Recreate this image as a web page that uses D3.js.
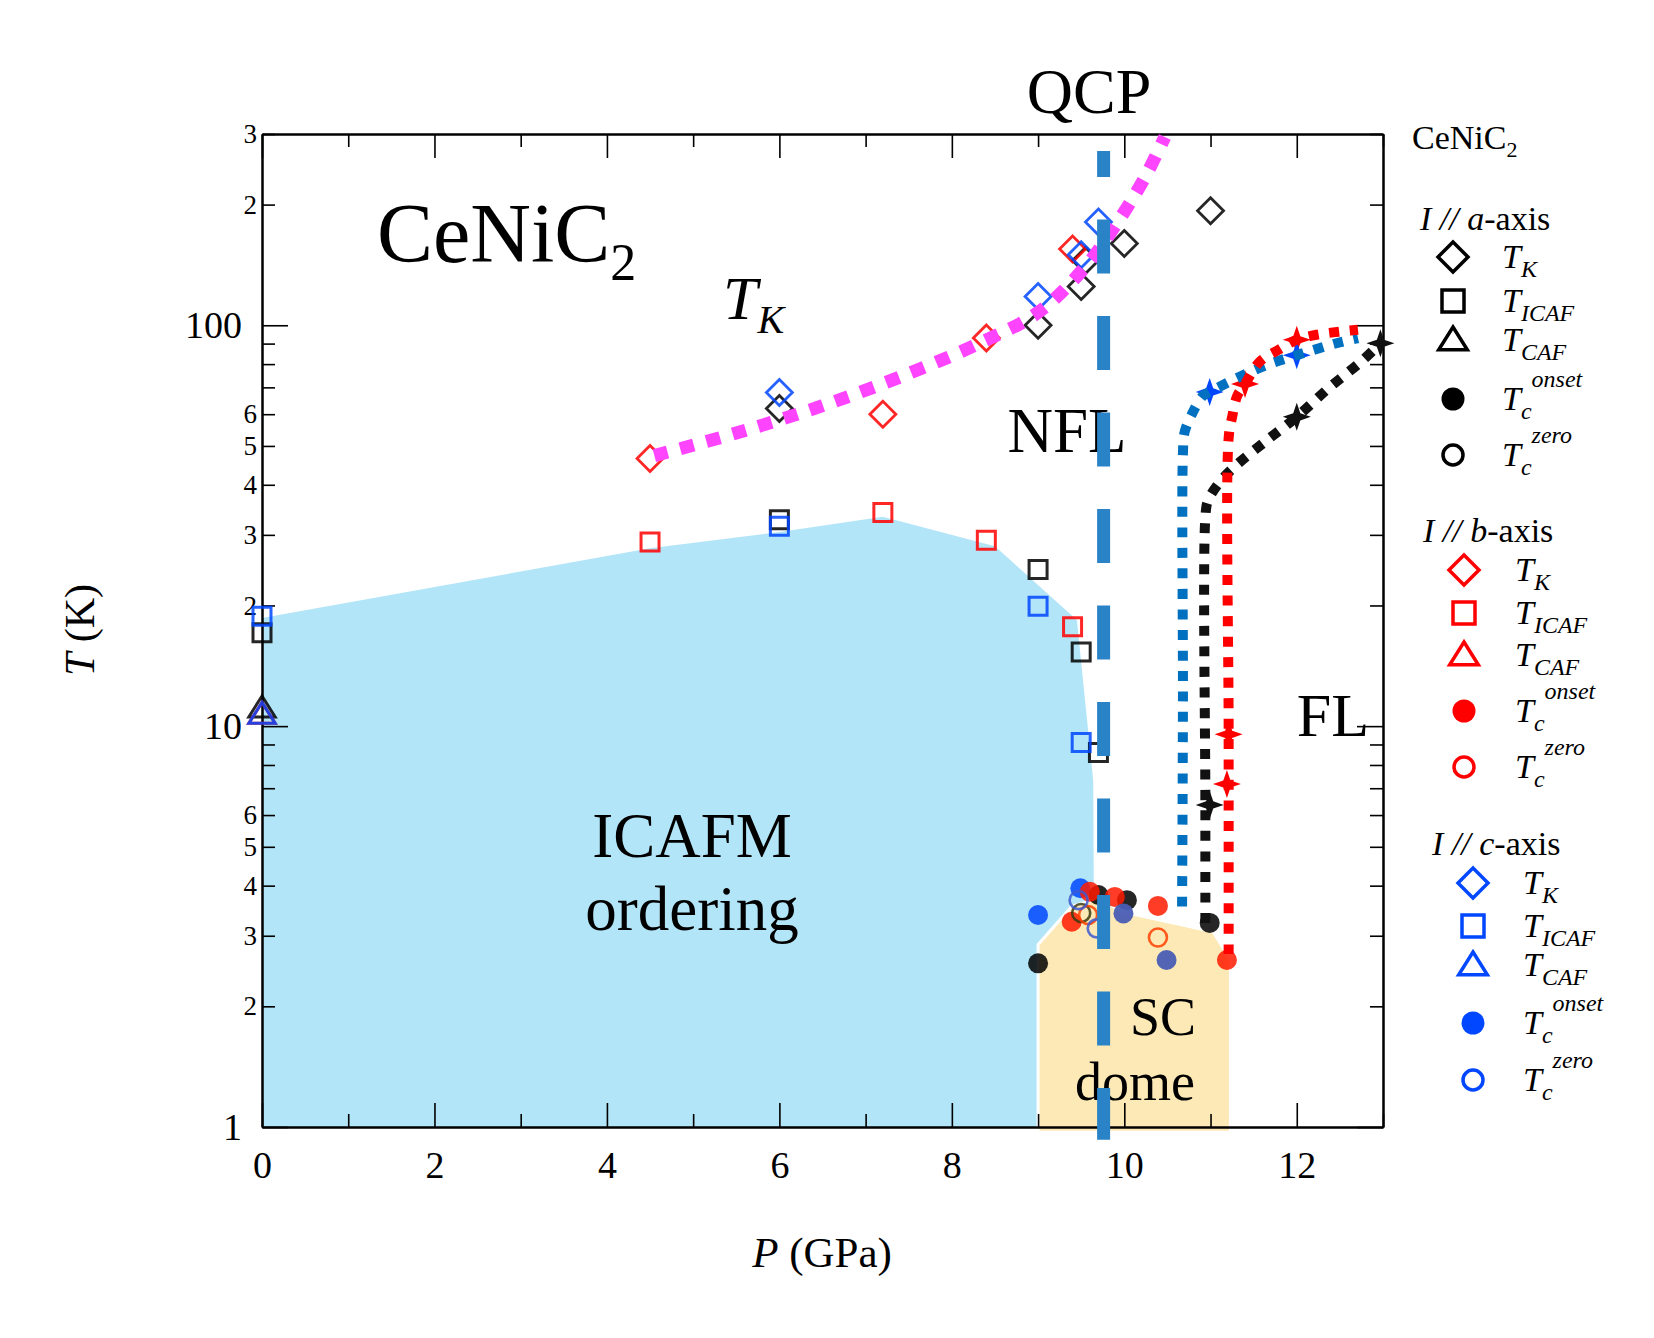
<!DOCTYPE html>
<html><head><meta charset="utf-8">
<script src="https://cdn.jsdelivr.net/npm/d3@7"></script>
<style>
body{margin:0;background:#fff;}
svg{display:block;font-family:"Liberation Serif","Times New Roman",serif;}
</style></head><body>
<svg id="chart" width="1654" height="1338"></svg>
<script>
// ---------- DATA ----------
const xMajorTicks = [0,2,4,6,8,10,12];
const xMinorTicks = [1,3,5,7,9,11,13];
const yMajorTicks = [1,10,100];
const yMinorTicks = [2,3,4,5,6,7,8,9,20,30,40,50,60,70,80,90,200,300];
const yBigLabels = {1:"1",10:"10",100:"100"};
const ySmallLabels = {2:"2",3:"3",4:"4",5:"5",6:"6",20:"2",30:"3",40:"4",50:"5",60:"6",200:"2",300:"3"};

// Regions [P (GPa), T (K)]
const icafmRegion = [[0,1],[0,18.6],[4.5,27.8],[6,30.5],[7.2,33.3],[8.5,28.1],[9.45,18.4],[9.64,7.3],[9.66,1]];
const scDome = [[9.0,0.97],[9.0,2.85],[9.39,3.55],[9.7,3.72],[9.98,3.44],[11.03,3.07],[11.23,2.61],[11.23,0.97]];

// T_K (diamonds)
const tkA = [[6,62],[9,100],[9.55,145],[9.5,125],[10,160],[11,193]];
const tkB = [[4.5,46.5],[7.2,60],[8.4,93],[9.4,155]];
const tkC = [[6,68],[9,118],[9.5,150],[9.7,181]];
// T_ICAF (squares)
const ticafA = [[0,17.1],[6,32.7],[9,24.6],[9.5,15.3],[9.7,8.6]];
const ticafB = [[4.5,28.8],[7.2,34.1],[8.4,29.1],[9.4,17.7]];
const ticafC = [[0,18.8],[6,31.5],[9,19.9],[9.5,9.1]];
// T_CAF (triangles)
const tcafA = [[0,11.1]];
const tcafB = [[0,10.7]];
const tcafC = [[0,10.7]];
// Tc onset (filled circles)
const tcOnA = [[9.0,2.56],[9.7,3.79],[10.03,3.68],[10.99,3.23]];
const tcOnB = [[9.39,3.25],[9.6,3.86],[9.89,3.75],[10.39,3.56],[11.19,2.61]];
const tcOnC = [[9.0,3.38],[9.49,3.94]];
const tcOnC2 = [[9.99,3.41],[10.49,2.61]];
// Tc zero (open circles)
const tcZeA = [[9.5,3.42]];
const tcZeB = [[9.58,3.38],[10.39,2.97]];
const tcZeC = [[9.47,3.68],[9.68,3.13]];

// Kondo temperature guide line
const tkGuide = [[4.55,47.3],[5.52,54],[6.5,63],[7.48,75.5],[8.34,90.6],[9.01,108],[9.56,141],[9.93,182],[10.23,232],[10.47,295]];
// FL boundary guide lines
const flA = [[10.94,3.23],[10.94,6.36],[10.94,33.1],[10.97,36.5],[11.11,40.7],[11.28,44.4],[11.63,51.2],[12.0,59.1],[12.37,69.7],[12.75,81.3],[12.97,90.2]];
const flB = [[11.21,2.7],[11.21,9.54],[11.21,52.4],[11.25,59],[11.31,66.7],[11.4,71.4],[11.57,81.1],[11.79,86.9],[12.0,92],[12.23,94.7],[12.71,97.5]];
const flC = [[10.67,3.55],[10.68,11.6],[10.68,48],[10.7,54.2],[10.78,59.8],[10.91,66.6],[10.99,68.2],[11.34,74.4],[11.65,79.6],[12.0,84.2],[12.46,90.2],[12.71,92.9]];
// stars on FL lines
const starA = [[10.99,6.36],[12.0,59.1],[12.97,90.2]];
const starB = [[11.21,9.54],[11.19,7.17],[11.4,71.4],[12.0,92]];
const starC = [[10.99,68.2],[12.0,84.2]];
// QCP line
const qcpLine = [[9.76,272],[9.76,0.93]];

// Legend
const legendGroups = ["a","b","c"];
const legendRows = ["TK","TICAF","TCAF","TcOnset","TcZero"];

// ---------- SCALES ----------
const svg = d3.select("#chart");
const x = d3.scaleLinear().domain([0,13]).range([262,1383]);
const y = d3.scaleLog().domain([1,300]).range([1127,134]);
const line = d3.line().x(d=>x(d[0])).y(d=>y(d[1]));
const smooth = d3.line().x(d=>x(d[0])).y(d=>y(d[1])).curve(d3.curveCatmullRom.alpha(0.5));

const colA="#000000", colB="#ff0000", colC="#0047ff";

// custom symbols: size = r^2
const symDiamond={draw(c,s){const r=Math.sqrt(s);c.moveTo(0,-r);c.lineTo(r,0);c.lineTo(0,r);c.lineTo(-r,0);c.closePath();}};
const symSquare={draw(c,s){const r=Math.sqrt(s);c.rect(-r,-r,2*r,2*r);}};
const symTri={draw(c,s){const r=Math.sqrt(s);c.moveTo(0,-r);c.lineTo(r*1.1,r*0.75);c.lineTo(-r*1.1,r*0.75);c.closePath();}};
const symCircle={draw(c,s){const r=Math.sqrt(s);c.moveTo(r,0);c.arc(0,0,r,0,2*Math.PI);}};
const symStar={draw(c,s){const r=Math.sqrt(s);for(let i=0;i<8;i++){const a=i*Math.PI/4-Math.PI/2;const rr=i%2?r*0.36:r;const px=rr*Math.cos(a),py=rr*Math.sin(a);if(i)c.lineTo(px,py);else c.moveTo(px,py);}c.closePath();}};
const sym=(t,r)=>d3.symbol().type(t).size(r*r)();

// ---------- REGIONS ----------
svg.append("path").attr("d",line(icafmRegion)+"Z").attr("fill","#b3e5f8");
svg.append("path").attr("d",line(scDome)+"Z").attr("fill","#fde9b6").attr("stroke","#fff").attr("stroke-width",3);

// ---------- AXES ----------
const axG = svg.append("g");
function styleAxis(g,fs){g.select(".domain").attr("stroke","#000").attr("stroke-width",2);
  g.selectAll(".tick line").attr("stroke","#000").attr("stroke-width",1.6);
  g.selectAll("text").attr("font-family","Liberation Serif").attr("font-size",fs).attr("fill","#000");}
axG.append("g").attr("transform","translate(0,1127)")
  .call(d3.axisBottom(x).tickValues(xMajorTicks).tickSizeInner(-24).tickSizeOuter(0).tickPadding(24).tickFormat(d3.format("d")))
  .call(g=>styleAxis(g,38));
axG.append("g").attr("transform","translate(0,1127)")
  .call(d3.axisBottom(x).tickValues(xMinorTicks).tickSizeInner(-13).tickSizeOuter(0).tickFormat(""))
  .call(g=>styleAxis(g,38));
axG.append("g").attr("transform","translate(0,134)")
  .call(d3.axisTop(x).tickValues(xMajorTicks).tickSizeInner(-24).tickSizeOuter(0).tickFormat(""))
  .call(g=>styleAxis(g,37));
axG.append("g").attr("transform","translate(0,134)")
  .call(d3.axisTop(x).tickValues(xMinorTicks).tickSizeInner(-13).tickSizeOuter(0).tickFormat(""))
  .call(g=>styleAxis(g,37));
axG.append("g").attr("transform","translate(262,0)")
  .call(d3.axisLeft(y).tickValues(yMajorTicks).tickSizeInner(-26).tickSizeOuter(0).tickPadding(20).tickFormat(d=>yBigLabels[d]||""))
  .call(g=>styleAxis(g,38));
axG.append("g").attr("transform","translate(262,0)")
  .call(d3.axisLeft(y).tickValues(yMinorTicks).tickSizeInner(-13).tickSizeOuter(0).tickPadding(5).tickFormat(d=>ySmallLabels[d]||""))
  .call(g=>styleAxis(g,27));
axG.append("g").attr("transform","translate(1383,0)")
  .call(d3.axisRight(y).tickValues(yMajorTicks).tickSizeInner(-26).tickSizeOuter(0).tickFormat(""))
  .call(g=>styleAxis(g,27));
axG.append("g").attr("transform","translate(1383,0)")
  .call(d3.axisRight(y).tickValues(yMinorTicks).tickSizeInner(-13).tickSizeOuter(0).tickFormat(""))
  .call(g=>styleAxis(g,27));

// axis titles
const xt = svg.append("text").attr("x",822).attr("y",1267).attr("text-anchor","middle").attr("font-size",43);
xt.append("tspan").attr("font-style","italic").text("P");
xt.append("tspan").text(" (GPa)");
const yt = svg.append("text").attr("transform","translate(94,630) rotate(-90)").attr("text-anchor","middle").attr("font-size",42);
yt.append("tspan").attr("font-style","italic").text("T");
yt.append("tspan").text(" (K)");

// ---------- ANNOTATIONS ----------
const big = svg.append("text").attr("x",377).attr("y",262).attr("font-size",84);
big.append("tspan").text("CeNiC");
big.append("tspan").attr("font-size",52).attr("dy",18).text("2");
const tkt = svg.append("text").attr("x",723).attr("y",319).attr("font-size",62).attr("font-style","italic");
tkt.append("tspan").text("T");
tkt.append("tspan").attr("font-size",40).attr("dy",14).text("K");
const ann=[["QCP",1089,113,64],["NFL",1067,452,63],["ICAFM",692,857,63],["ordering",692,930,63],["SC",1163,1035,54],["dome",1135,1100,54],["FL",1333,736,62]];
svg.selectAll("text.ann").data(ann).join("text").attr("class","ann")
  .attr("x",d=>d[1]).attr("y",d=>d[2]).attr("font-size",d=>d[3]).attr("text-anchor","middle").text(d=>d[0]);

// ---------- MARKERS ----------
const mk = svg.append("g");
function plotSym(data,type,r,color,filled,sw,op){
  mk.append("g").selectAll("path").data(data).join("path")
    .attr("transform",d=>`translate(${x(d[0])},${y(d[1])})`)
    .attr("d",sym(type,r))
    .attr("fill",filled?color:"none")
    .attr("stroke",filled?"none":color).attr("stroke-width",sw||3)
    .attr("opacity",op||0.85);
}
plotSym(tkA,symDiamond,13,colA,false,2.8);
plotSym(tkB,symDiamond,13,colB,false,2.8);
plotSym(tkC,symDiamond,13,colC,false,2.8);
plotSym(ticafA,symSquare,9,colA,false,3);
plotSym(ticafB,symSquare,9,colB,false,3);
plotSym(ticafC,symSquare,9,colC,false,3);
plotSym(tcafA,symTri,12,colA,false,3);
plotSym(tcafB,symTri,12,colB,false,3);
plotSym(tcafC,symTri,12,colC,false,3);
plotSym(tcOnC,symCircle,10,colC,true);
plotSym(tcOnA,symCircle,10,colA,true);
plotSym(tcOnB,symCircle,10,"#ff1a00",true);
plotSym(tcOnC2,symCircle,10,"#4a5db4",true,0,0.95);
plotSym(tcZeA,symCircle,9,"#3a3a10",false,2.6);
plotSym(tcZeB,symCircle,9,"#ff4000",false,2.6);
plotSym(tcZeC,symCircle,9,"#3c5ad0",false,2.6);

// ---------- GUIDE LINES ----------
svg.append("path").attr("d",smooth(flC)).attr("fill","none").attr("stroke","#0070c0").attr("stroke-width",10).attr("stroke-dasharray","10,10.5");
svg.append("path").attr("d",smooth(flA)).attr("fill","none").attr("stroke","#111").attr("stroke-width",10).attr("stroke-dasharray","10,10.5");
svg.append("path").attr("d",smooth(flB)).attr("fill","none").attr("stroke","#ff0000").attr("stroke-width",10).attr("stroke-dasharray","10,10.5");
plotSym(starA,symStar,14,"#111",true,0,1);
plotSym(starB,symStar,14,"#ff0000",true,0,1);
plotSym(starC,symStar,14,"#0047ff",true,0,1);
svg.append("path").attr("d",smooth(tkGuide)).attr("fill","none").attr("stroke","#ff44ff").attr("stroke-width",13).attr("stroke-dasharray","14,13");
svg.append("path").attr("d",line(qcpLine)).attr("fill","none").attr("stroke","#2a83c7").attr("stroke-width",13)
  .attr("stroke-dasharray","54,42.5").attr("stroke-dashoffset",28);

// ---------- LEGEND ----------
const lgHead = svg.append("text").attr("x",1412).attr("y",149).attr("font-size",34);
lgHead.append("tspan").text("CeNiC");
lgHead.append("tspan").attr("font-size",22).attr("dy",8).text("2");
const lgLayout = {a:{hx:1420,hy:230,sx:1453,lx:1502,rows:[257,301,340,399,455]},
                  b:{hx:1423,hy:542,sx:1464,lx:1515,rows:[570,613,655,711,767]},
                  c:{hx:1432,hy:855,sx:1473,lx:1523,rows:[883,926,965,1023,1080]}};
const lgColor = {a:colA,b:colB,c:colC};
legendGroups.forEach(g=>{
  const L=lgLayout[g], col=lgColor[g];
  const h=svg.append("text").attr("x",L.hx).attr("y",L.hy).attr("font-size",34);
  h.append("tspan").attr("font-style","italic").text("I // "+g);
  h.append("tspan").text("-axis");
  legendRows.forEach((row,i)=>{
    const yy=L.rows[i];
    const t={TK:[symDiamond,15,false],TICAF:[symSquare,11,false],TCAF:[symTri,13,false],TcOnset:[symCircle,11.5,true],TcZero:[symCircle,10,false]}[row];
    svg.append("path").attr("transform",`translate(${L.sx},${yy})`).attr("d",sym(t[0],t[1]))
      .attr("fill",t[2]?col:"none").attr("stroke",t[2]?"none":col).attr("stroke-width",3.5);
    const tx=svg.append("text").attr("x",L.lx).attr("y",yy+11).attr("font-size",34).attr("font-style","italic");
    tx.append("tspan").text("T");
    if(row==="TK") tx.append("tspan").attr("font-size",24).attr("dy",9).text("K");
    if(row==="TICAF") tx.append("tspan").attr("font-size",24).attr("dy",9).text("ICAF");
    if(row==="TCAF") tx.append("tspan").attr("font-size",24).attr("dy",9).text("CAF");
    if(row==="TcOnset"){tx.append("tspan").attr("font-size",24).attr("dy",9).text("c");tx.append("tspan").attr("font-size",24).attr("dy",-32).text("onset");}
    if(row==="TcZero"){tx.append("tspan").attr("font-size",24).attr("dy",9).text("c");tx.append("tspan").attr("font-size",24).attr("dy",-32).text("zero");}
  });
});
</script>
</body></html>
